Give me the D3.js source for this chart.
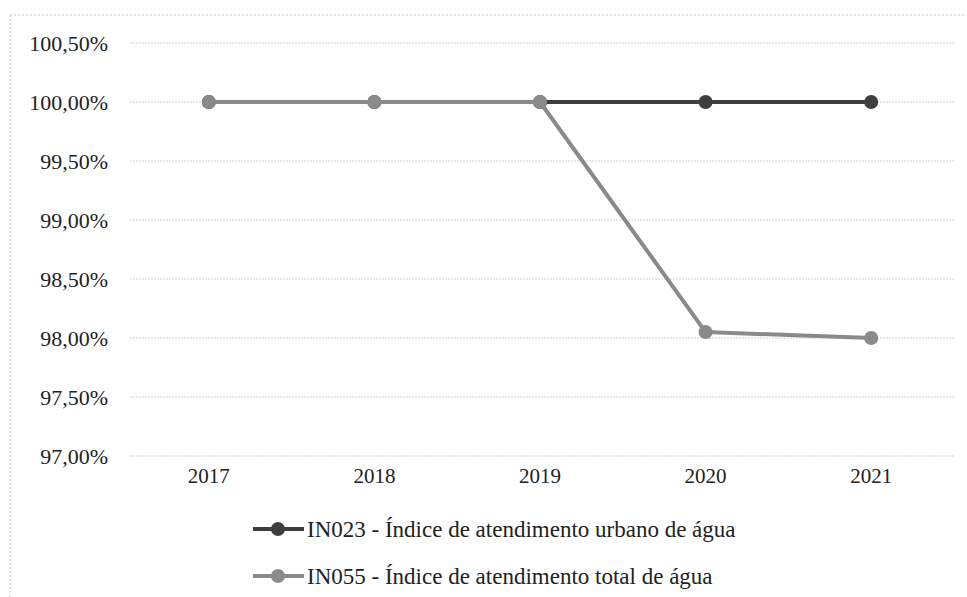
<!DOCTYPE html>
<html><head><meta charset="utf-8">
<script src="https://cdn.jsdelivr.net/npm/d3@7"></script>
<style>body{margin:0;background:#fff}svg{display:block}
svg text{font-family:"Liberation Serif","Times New Roman","DejaVu Serif",serif !important;}</style>
</head><body>
<svg id="c" width="967" height="597"></svg>
<script>
const categories = ["2017","2018","2019","2020","2021"];
const in023 = [100.00, 100.00, 100.00, 100.00, 100.00];
const in055 = [100.00, 100.00, 100.00, 98.05, 98.00];
const yTicks = [97.0, 97.5, 98.0, 98.5, 99.0, 99.5, 100.0, 100.5];
const seriesNames = ["IN023 - Índice de atendimento urbano de água", "IN055 - Índice de atendimento total de água"];
const colors = ["#3e3e3e", "#8a8a8a"];

const svg = d3.select("#c");

// outer border (dotted)
svg.append("line").attr("x1",10).attr("x2",10).attr("y1",15).attr("y2",597)
  .attr("stroke","#c8c8c8").attr("stroke-width",1).attr("stroke-dasharray","2,2");
svg.append("line").attr("x1",10).attr("x2",967).attr("y1",15).attr("y2",15)
  .attr("stroke","#c8c8c8").attr("stroke-width",1).attr("stroke-dasharray","2,2");

const x = d3.scaleBand().domain(categories).range([126, 954]);
const y = d3.scaleLinear().domain([97, 100.5]).range([456, 43]);
const fmt = v => v.toFixed(2).replace(".", ",") + "%";

// gridlines
svg.append("g").selectAll("line").data(yTicks).join("line")
  .attr("x1",130).attr("x2",955).attr("y1",d=>y(d)).attr("y2",d=>y(d))
  .attr("stroke","#cfcfcf").attr("stroke-width",1).attr("stroke-dasharray","2,1");

// y axis labels
const yAxis = d3.axisLeft(y).tickValues(yTicks).tickFormat(fmt).tickSize(0).tickPadding(0);
const gy = svg.append("g").attr("transform","translate(108,0)").call(yAxis);
gy.select(".domain").remove();
gy.attr("font-family",null).attr("font-size",null);
gy.selectAll("text").style("font-size","22px").attr("fill","#222").attr("dy","0.33em");

// x axis labels
const xAxis = d3.axisBottom(x).tickSize(0).tickPadding(0);
const gx = svg.append("g").attr("transform","translate(0,468)").call(xAxis);
gx.select(".domain").remove();
gx.attr("font-family",null).attr("font-size",null);
gx.selectAll("text").style("font-size","21px").attr("fill","#222").attr("dy","0.71em");

const cx = d => x(d) + x.bandwidth()/2;
const line = d3.line().x((d,i)=>cx(categories[i])).y(d=>y(d));

[in023, in055].forEach((s, k) => {
  const g = svg.append("g");
  g.append("path").datum(s).attr("d", line).attr("fill","none")
    .attr("stroke", colors[k]).attr("stroke-width", 4).attr("stroke-linejoin","round");
  g.selectAll("circle").data(s).join("circle")
    .attr("cx",(d,i)=>cx(categories[i])).attr("cy",d=>y(d)).attr("r",7)
    .attr("fill", colors[k]);
});

// legend
const leg = svg.append("g");
seriesNames.forEach((n, k) => {
  const ly = 529 + k*47;
  leg.append("line").attr("x1",253).attr("x2",304).attr("y1",ly).attr("y2",ly)
    .attr("stroke",colors[k]).attr("stroke-width",4);
  leg.append("circle").attr("cx",278).attr("cy",ly).attr("r",7).attr("fill",colors[k]);
  leg.append("text").attr("x",307).attr("y",ly).attr("dy","0.35em")
    .style("font-size","23px").attr("fill","#222").text(n);
});
</script>
</body></html>
